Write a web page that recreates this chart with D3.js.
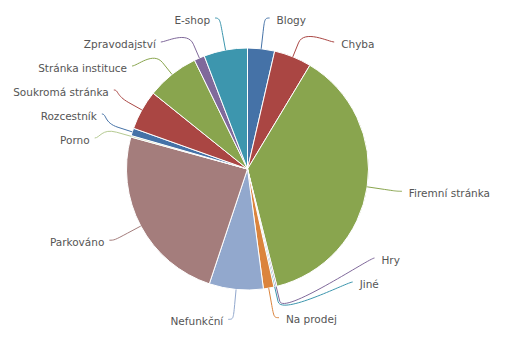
<!DOCTYPE html>
<html>
<head>
<meta charset="utf-8">
<script src="https://cdnjs.cloudflare.com/ajax/libs/d3/7.8.5/d3.min.js"></script>
<style>
    body { margin: 0; background: #ffffff; }
</style>
</head>
<body>
<div id="chart"></div>
<script>
// kategorie a podily v procentech
var categories = ["Blogy", "Chyba", "Firemní stránka", "Hry", "Jiné", "Na prodej", "Nefunkční",
    "Parkováno", "Porno", "Rozcestník", "Soukromá stránka", "Stránka instituce", "Zpravodajství", "E-shop"];
var values = [3.6, 5.0, 37.4, 0.2, 0.2, 1.4, 7.2, 24.1, 0.2, 1.0, 5.3, 7.0, 1.4, 5.8];
var palette = ["#4572A7", "#AA4643", "#89A54E", "#80699B", "#3D96AE", "#DB843D", "#92A8CD", "#A47D7C", "#B5CA92"];

var svg_width = 505, svg_height = 338;
var cx = 247.5, cy = 169, radius = 121;
var distance = 30, connector_padding = 10, label_height = 24;

var svg = d3.select("#chart").append("svg")
    .attr("width", svg_width)
    .attr("height", svg_height);

var pie = d3.pie().sort(null).value(function (d) { return d; });
var arcs = pie(values);
var arc = d3.arc().innerRadius(0).outerRadius(radius);

var g = svg.append("g").attr("transform", "translate(" + cx + "," + cy + ")");
g.selectAll("path.slice")
    .data(arcs)
    .enter().append("path")
    .attr("class", "slice")
    .attr("d", arc)
    .attr("fill", function (d, i) { return palette[i % palette.length]; })
    .attr("stroke", "#ffffff")
    .attr("stroke-width", 1)
    .attr("stroke-linejoin", "round");

// pozice popisku (stejne jako sloty v highcharts)
var points = arcs.map(function (d, i) {
    var a = (d.startAngle + d.endAngle) / 2;
    var s = Math.sin(a), c = -Math.cos(a);
    return {
        i: i,
        angle: a,
        half: a > Math.PI ? 1 : 0,
        naturalY: cy + c * (radius + distance),
        b2x: cx + s * (radius + distance / 2), b2y: cy + c * (radius + distance / 2),
        bx: cx + s * radius, by: cy + c * radius
    };
});

function getX(y, half) {
    var R = radius + distance;
    var t = Math.max(-1, Math.min(1, (y - cy) / R));
    return cx + (half ? -1 : 1) * Math.cos(Math.asin(t)) * R;
}

[0, 1].forEach(function (half) {
    var pts = points.filter(function (p) { return p.half === half; });
    pts.sort(function (a, b) { return a.naturalY - b.naturalY; });
    var slots = [], pos;
    for (pos = cy - radius - distance; pos <= cy + radius + distance; pos += label_height)
        slots.push(pos);
    var n = slots.length, len = pts.length, used = [], j, k;
    for (j = 0; j < len; j++) {
        var closest = 9999, idx = 0;
        for (k = 0; k < n; k++) {
            var dd = Math.abs(slots[k] - pts[j].naturalY);
            if (dd < closest) { closest = dd; idx = k; }
        }
        if (idx < j && slots[j] !== null) {
            idx = j;
        } else if (n < len - j + idx && slots[j] !== null) {
            idx = n - len + j;
            while (slots[idx] === null) idx++;
        } else {
            while (slots[idx] === null) idx++;
        }
        used.push({ i: idx, y: slots[idx] });
        slots[idx] = null;
    }
    used.sort(function (a, b) { return a.y - b.y; });
    for (j = 0; j < len; j++) {
        var p = pts[j], slot = used[j], y = slot.y;
        if ((p.naturalY > y && slots[slot.i + 1] !== null) || (p.naturalY < y && slots[slot.i - 1] !== null))
            y = p.naturalY;
        p.y = y;
        p.x = getX(slot.i === 0 || slot.i === n - 1 ? p.naturalY : y, half);
    }
});

// spojnice
svg.selectAll("path.connector")
    .data(points)
    .enter().append("path")
    .attr("class", "connector")
    .attr("d", function (p) {
        var sx = p.x + (p.half ? -5 : 5);
        return "M" + sx + "," + p.y + "C" + p.x + "," + p.y + " " +
            (2 * p.b2x - p.bx) + "," + (2 * p.b2y - p.by) + " " + p.b2x + "," + p.b2y +
            "L" + p.bx + "," + p.by;
    })
    .attr("fill", "none")
    .attr("stroke", function (p) { return palette[p.i % palette.length]; })
    .attr("stroke-width", 1);

// texty
svg.selectAll("text.label")
    .data(points)
    .enter().append("text")
    .attr("class", "label")
    .attr("x", function (p) { return p.x + (p.half ? -connector_padding : connector_padding + 2); })
    .attr("y", function (p) { return p.y + 5.5; })
    .attr("text-anchor", function (p) { return p.half ? "end" : "start"; })
    .style("font-family", "'DejaVu Sans', Verdana, sans-serif")
    .style("font-size", "10.5px")
    .style("fill", "#555555")
    .text(function (p) { return categories[p.i]; });
</script>
</body>
</html>
